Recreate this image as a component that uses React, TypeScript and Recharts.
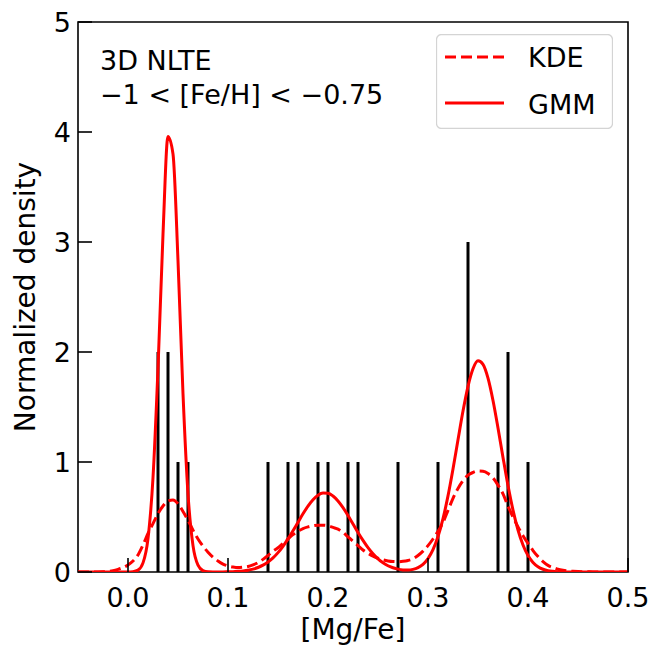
import React from 'react';
import { ComposedChart, Line, Bar, XAxis, YAxis, ReferenceArea, Legend, Label } from 'recharts';

const FONT = '"DejaVu Sans", Verdana, sans-serif';

// sample positions of the density curves ([Mg/Fe])
const xGrid = [
  -0.05, -0.045, -0.04, -0.035, -0.03, -0.025, -0.02, -0.015, -0.01, -0.005,
  0, 0.005, 0.01, 0.015, 0.02, 0.025, 0.03, 0.035, 0.04, 0.045,
  0.05, 0.055, 0.06, 0.065, 0.07, 0.075, 0.08, 0.085, 0.09, 0.095,
  0.1, 0.105, 0.11, 0.115, 0.12, 0.125, 0.13, 0.135, 0.14, 0.145,
  0.15, 0.155, 0.16, 0.165, 0.17, 0.175, 0.18, 0.185, 0.19, 0.195,
  0.2, 0.205, 0.21, 0.215, 0.22, 0.225, 0.23, 0.235, 0.24, 0.245,
  0.25, 0.255, 0.26, 0.265, 0.27, 0.275, 0.28, 0.285, 0.29, 0.295,
  0.3, 0.305, 0.31, 0.315, 0.32, 0.325, 0.33, 0.335, 0.34, 0.345,
  0.35, 0.355, 0.36, 0.365, 0.37, 0.375, 0.38, 0.385, 0.39, 0.395,
  0.4, 0.405, 0.41, 0.415, 0.42, 0.425, 0.43, 0.435, 0.44, 0.445,
  0.45, 0.455, 0.46, 0.465, 0.47, 0.475, 0.48, 0.485, 0.49, 0.495,
  0.5,
];

// KDE (dashed)
const kdeValues = [
  0, 0, 0, 0.001, 0.001, 0.002, 0.005, 0.012, 0.024, 0.04,
  0.064, 0.1, 0.155, 0.245, 0.35, 0.44, 0.53, 0.6, 0.645, 0.655,
  0.62, 0.55, 0.47, 0.38, 0.3, 0.235, 0.18, 0.135, 0.1, 0.072,
  0.055, 0.045, 0.04, 0.043, 0.05, 0.065, 0.085, 0.115, 0.15, 0.19,
  0.22, 0.26, 0.3, 0.34, 0.37, 0.395, 0.41, 0.42, 0.425, 0.425,
  0.42, 0.405, 0.39, 0.36, 0.32, 0.28, 0.24, 0.2, 0.17, 0.145,
  0.125, 0.11, 0.1, 0.095, 0.094, 0.097, 0.105, 0.12, 0.15, 0.19,
  0.24, 0.3, 0.37, 0.45, 0.56, 0.67, 0.76, 0.83, 0.88, 0.905,
  0.918, 0.915, 0.895, 0.855, 0.79, 0.71, 0.6, 0.5, 0.41, 0.33,
  0.26, 0.195, 0.14, 0.095, 0.06, 0.04, 0.025, 0.016, 0.01, 0.006,
  0.004, 0.003, 0.002, 0.001, 0.001, 0, 0, 0, 0, 0,
  0,
];

// GMM (solid)
const gmmValues = [
  0, 0, 0, 0, 0, 0, 0, 0, 0, 0,
  0, 0.003, 0.017, 0.083, 0.304, 0.857, 1.852, 3.07, 3.96, 3.8,
  2.83, 1.62, 0.71, 0.24, 0.062, 0.012, 0.002, 0.001, 0.001, 0.001,
  0.002, 0.003, 0.006, 0.01, 0.016, 0.026, 0.041, 0.062, 0.091, 0.128,
  0.176, 0.234, 0.301, 0.375, 0.452, 0.529, 0.599, 0.657, 0.698, 0.718,
  0.716, 0.691, 0.646, 0.585, 0.514, 0.437, 0.359, 0.287, 0.221, 0.166,
  0.12, 0.085, 0.057, 0.039, 0.026, 0.019, 0.018, 0.024, 0.04, 0.07,
  0.122, 0.203, 0.322, 0.485, 0.692, 0.937, 1.202, 1.463, 1.688, 1.848,
  1.92, 1.888, 1.762, 1.559, 1.309, 1.042, 0.786, 0.563, 0.382, 0.246,
  0.15, 0.087, 0.048, 0.025, 0.012, 0.006, 0.003, 0.001, 0, 0,
  0, 0, 0, 0, 0, 0, 0, 0, 0, 0,
  0,
];

// histogram of stars (black vertical bars)
const barPositions = [0.03, 0.04, 0.05, 0.06, 0.14, 0.16, 0.17, 0.19, 0.2, 0.22, 0.23, 0.27, 0.31, 0.34, 0.37, 0.38, 0.4];
const barCounts = [2, 2, 1, 1, 1, 1, 1, 1, 1, 1, 1, 1, 1, 3, 1, 2, 1];

const xTicks = [0, 0.1, 0.2, 0.3, 0.4, 0.5];
const yTicks = [0, 1, 2, 3, 4, 5];
const annotationLines = ['3D NLTE', '\u22121 < [Fe/H] < \u22120.75'];
const legendItems = [
  { name: 'KDE', dash: '11 5' },
  { name: 'GMM', dash: undefined as string | undefined },
];

const data = xGrid.map((x, i) => {
  const bi = barPositions.findIndex((b) => Math.abs(b - x) < 1e-9);
  return { x, kde: kdeValues[i], gmm: gmmValues[i], count: bi >= 0 ? barCounts[bi] : null };
});

const XTick = (props: any) => {
  const { x, y, payload } = props;
  return (
    <g>
      <line x1={x} x2={x} y1={y} y2={y - 14} stroke="#000" strokeWidth={1.6} />
      <text x={x} y={y + 35} textAnchor="middle" fontSize={27} fontFamily={FONT} fill="#000">
        {Number(payload.value).toFixed(1)}
      </text>
    </g>
  );
};

const YTick = (props: any) => {
  const { x, y, payload } = props;
  return (
    <g>
      <line x1={x} x2={x + 14} y1={y} y2={y} stroke="#000" strokeWidth={1.6} />
      <text x={x - 7} y={y + 10} textAnchor="end" fontSize={27} fontFamily={FONT} fill="#000">
        {payload.value}
      </text>
    </g>
  );
};

const LegendBox = () => (
  <svg width={177} height={95} style={{ display: 'block' }}>
    <rect x={0.5} y={0.5} width={176} height={94} rx={5} ry={5} fill="#fff" fillOpacity={0.8} stroke="#d4d4d4" strokeWidth={1.3} />
    {legendItems.map((item, i) => (
      <g key={item.name}>
        <line x1={9} x2={68} y1={23 + i * 46} y2={23 + i * 46} stroke="#ff0000" strokeWidth={3} strokeDasharray={item.dash} />
        <text x={92} y={33 + i * 47} fontSize={27} fontFamily={FONT} fill="#000">
          {item.name}
        </text>
      </g>
    ))}
  </svg>
);

export default function App() {
  return (
    <div style={{ position: 'absolute', left: 0, top: 0, width: 672, height: 645, background: '#fff' }}>
      <ComposedChart width={672} height={645} data={data} margin={{ top: 22, right: 44, bottom: 0, left: 0 }}>
        <XAxis
          dataKey="x"
          type="number"
          domain={[-0.05, 0.5]}
          ticks={xTicks}
          interval={0}
          allowDataOverflow
          axisLine={false}
          tickLine={false}
          tickSize={0}
          tickMargin={0}
          height={73}
          tick={<XTick />}
        >
          <Label
            content={(p: any) => {
              const vb = p.viewBox || {};
              return (
                <text x={vb.x + vb.width / 2} y={vb.y + 67} textAnchor="middle" fontSize={28} fontFamily={FONT} fill="#000">
                  [Mg/Fe]
                </text>
              );
            }}
          />
        </XAxis>
        <YAxis
          type="number"
          domain={[0, 5]}
          ticks={yTicks}
          interval={0}
          allowDataOverflow
          axisLine={false}
          tickLine={false}
          tickSize={0}
          tickMargin={0}
          width={78}
          tick={<YTick />}
        >
          <Label
            content={(p: any) => {
              const vb = p.viewBox || {};
              const cy = vb.y + vb.height / 2;
              return (
                <text x={35} y={cy} transform={`rotate(-90 35 ${cy})`} textAnchor="middle" fontSize={28} fontFamily={FONT} fill="#000">
                  Normalized density
                </text>
              );
            }}
          />
        </YAxis>
        <Bar dataKey="count" fill="#000" barSize={3} isAnimationActive={false} legendType="none" />
        <Line
          type="monotone"
          dataKey="kde"
          name="KDE"
          stroke="#ff0000"
          strokeWidth={3}
          strokeDasharray="11 5"
          dot={false}
          activeDot={false}
          connectNulls
          isAnimationActive={false}
        />
        <Line
          type="monotone"
          dataKey="gmm"
          name="GMM"
          stroke="#ff0000"
          strokeWidth={3}
          dot={false}
          activeDot={false}
          connectNulls
          isAnimationActive={false}
        />
        <ReferenceArea x1={-0.05} x2={0.5} y1={0} y2={5} fill="none" stroke="#000" strokeWidth={1.6} ifOverflow="visible" />
        <Legend
          layout="vertical"
          align="center"
          verticalAlign="middle"
          wrapperStyle={{ position: 'absolute', left: 436, top: 34, width: 177, height: 95 }}
          content={() => <LegendBox />}
        />
      </ComposedChart>
      <svg width={672} height={645} style={{ position: 'absolute', left: 0, top: 0, pointerEvents: 'none' }}>
        {annotationLines.map((t, i) => (
          <text key={i} x={100} y={70 + i * 34} fontSize={27} fontFamily={FONT} fill="#000">
            {t}
          </text>
        ))}
      </svg>
    </div>
  );
}
